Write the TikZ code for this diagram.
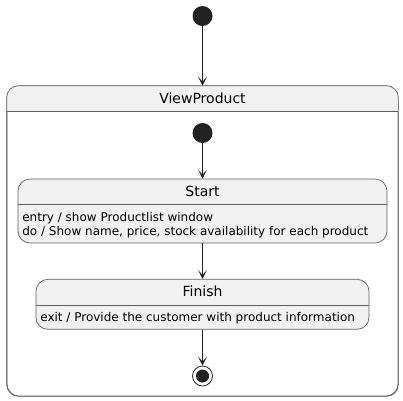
\documentclass[tikz,border=0pt]{standalone}
\usepackage{fontspec}
\setmainfont{DejaVu Sans}
\usetikzlibrary{arrows.meta}
\definecolor{statefill}{HTML}{F1F1F1}
\definecolor{stateline}{HTML}{5F5F5F}
\definecolor{dot}{HTML}{222222}
\begin{document}
\begin{tikzpicture}[x=1pt,y=-1pt,
    statebox/.style={draw=stateline, fill=statefill, line width=0.7pt,
      rounded corners=12pt, inner sep=0pt},
    sep/.style={draw=stateline, line width=0.7pt},
    title/.style={font=\fontsize{14}{16}\selectfont, inner sep=0pt},
    body/.style={font=\fontsize{12}{14}\selectfont, align=left, inner sep=0pt},
    initial/.style={circle, fill=dot, minimum size=20pt, inner sep=0pt},
    arr/.style={-{Stealth[length=9pt,width=9pt,inset=5pt]}, draw=dot, line width=0.8pt}]
  \useasboundingbox (0,0) rectangle (403,400);
  \node[initial] (init) at (202.5,16) {};

  % composite state: grey header, white body
  \node[statebox, fill=white, minimum width=391pt, minimum height=310pt] (view) at (202.5,241) {};
  \begin{scope}
    \clip (view.north west) rectangle ([yshift=-26pt]view.north east);
    \fill[statefill, rounded corners=12pt] (view.north west) rectangle (view.south east);
  \end{scope}
  \draw[sep, rounded corners=12pt] (view.north west) rectangle (view.south east);
  \node[title] at ([yshift=-13pt]view.north) {ViewProduct};
  \draw[sep] ([yshift=-26pt]view.north west) -- ([yshift=-26pt]view.north east);

  \node[initial] (inner) at (202.5,133) {};

  \node[statebox, minimum width=369pt, minimum height=64pt] (start) at (202.5,211) {};
  \node[title] at ([yshift=-12.5pt]start.north) {Start};
  \draw[sep] ([yshift=-26pt]start.north west) -- ([yshift=-26pt]start.north east);
  \node[body, anchor=north west] at ([xshift=4.5pt,yshift=-34pt]start.north west)
    {entry / show Productlist window\\do / Show name, price, stock availability for each product};

  \node[statebox, minimum width=333pt, minimum height=50pt] (finish) at (202.5,304.3) {};
  \node[title] at ([yshift=-12.5pt]finish.north) {Finish};
  \draw[sep] ([yshift=-26pt]finish.north west) -- ([yshift=-26pt]finish.north east);
  \node[body, anchor=north west] at ([xshift=4.5pt,yshift=-33.5pt]finish.north west)
    {exit / Provide the customer with product information};

  \node[circle, draw=dot, fill=white, line width=0.8pt, minimum size=20pt, inner sep=0pt] (final) at (202.5,376) {};
  \fill[dot] (final) circle (6.5pt);

  \draw[arr] (init) -- (view.north);
  \draw[arr] (inner) -- (start.north);
  \draw[arr] (start.south) -- (finish.north);
  \draw[arr] (finish.south) -- (final.north);
\end{tikzpicture}
\end{document}
